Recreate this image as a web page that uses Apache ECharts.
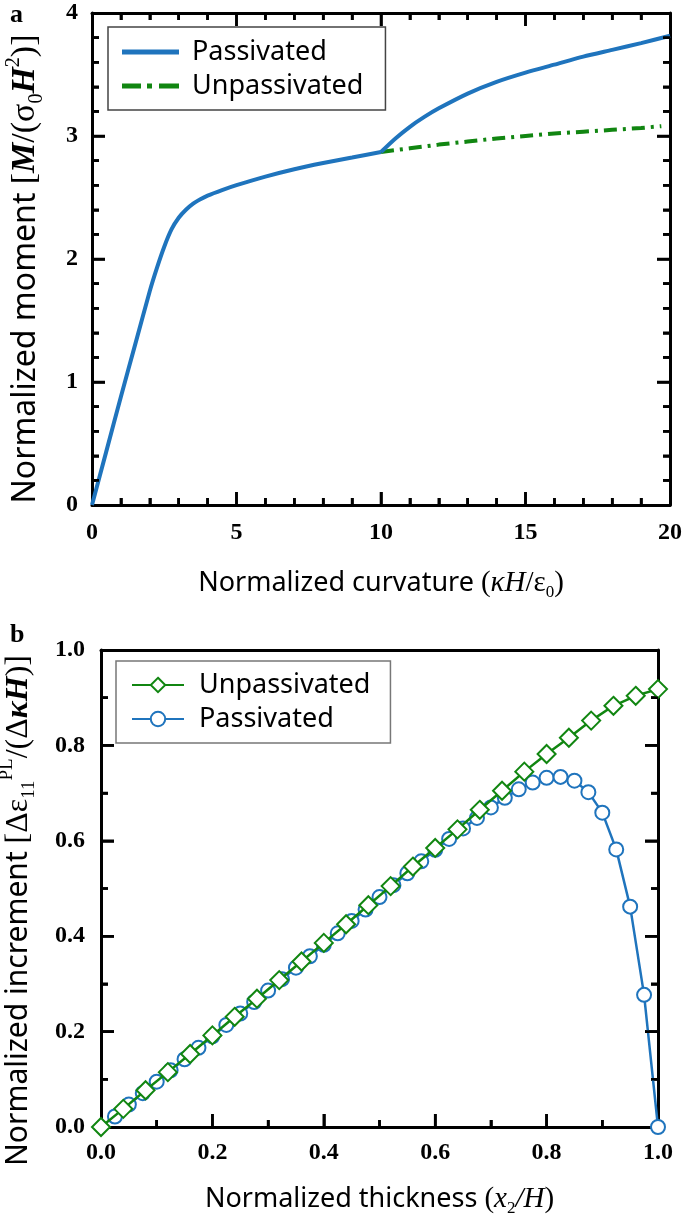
<!DOCTYPE html>
<html>
<head>
<meta charset="utf-8">
<script src="https://cdn.jsdelivr.net/npm/echarts@6/dist/echarts.min.js"></script>
<style>
html,body{margin:0;padding:0;background:#fff;}
#chart{width:685px;height:1220px;}
</style>
</head>
<body>
<div id="chart"></div>
<script>
// ---------- Panel a: moment vs curvature ----------
var aPassX1 = [0, 0.5, 1, 1.5, 2, 2.25, 2.5, 2.75, 3, 3.25, 3.5, 3.75, 4, 4.5, 5, 6, 7, 8, 9, 10];
var aPassY1 = [0, 0.44, 0.88, 1.31, 1.74, 1.93, 2.10, 2.24, 2.335, 2.40, 2.45, 2.485, 2.515, 2.56, 2.60, 2.67, 2.73, 2.78, 2.825, 2.87];
var aPassX2 = [10, 10.5, 11, 11.5, 12, 13, 14, 15, 16, 17, 18, 19, 20];
var aPassY2 = [2.87, 2.98, 3.075, 3.155, 3.225, 3.345, 3.44, 3.515, 3.58, 3.645, 3.70, 3.755, 3.815];
var aUnpassX = [10, 11, 12, 13, 14, 15, 16, 17, 18, 19, 19.7];
var aUnpassY = [2.87, 2.90, 2.93, 2.955, 2.98, 3.00, 3.02, 3.035, 3.05, 3.065, 3.08];
var aXTicks = [0, 5, 10, 15, 20];
var aYTicks = [0, 1, 2, 3, 4];

// ---------- Panel b: increment vs thickness ----------
var bUnpassX = [0, 0.04, 0.08, 0.12, 0.16, 0.2, 0.24, 0.28, 0.32, 0.36, 0.4, 0.44, 0.48, 0.52,
                0.56, 0.6, 0.64, 0.68, 0.72, 0.76, 0.8, 0.84, 0.88, 0.92, 0.96, 1.0];
var bUnpassY = [0, 0.038, 0.077, 0.115, 0.153, 0.192, 0.231, 0.269, 0.308, 0.347, 0.386, 0.425, 0.465, 0.505,
                0.546, 0.585, 0.624, 0.665, 0.705, 0.745, 0.782, 0.816, 0.852, 0.883, 0.904, 0.918];
var bPassX = [0.025, 0.05, 0.075, 0.1, 0.125, 0.15, 0.175, 0.2, 0.225, 0.25, 0.275, 0.3, 0.325, 0.35,
              0.375, 0.4, 0.425, 0.45, 0.475, 0.5, 0.525, 0.55, 0.575, 0.6, 0.625, 0.65, 0.675, 0.7,
              0.725, 0.75, 0.775, 0.8, 0.825, 0.85, 0.875, 0.9, 0.925, 0.95, 0.975, 1.0];
var bPassY = [0.022, 0.047, 0.071, 0.095, 0.119, 0.142, 0.166, 0.190, 0.214, 0.238, 0.262, 0.286, 0.310, 0.334,
              0.358, 0.382, 0.406, 0.432, 0.456, 0.482, 0.507, 0.532, 0.557, 0.581, 0.604, 0.626, 0.648, 0.670,
              0.690, 0.708, 0.722, 0.732, 0.734, 0.726, 0.702, 0.659, 0.582, 0.462, 0.277, 0.0];
var bXTicks = [0, 0.2, 0.4, 0.6, 0.8, 1.0];
var bYTicks = [0, 0.2, 0.4, 0.6, 0.8, 1.0];

var BLUE = '#1f74bd';
var GREEN = '#118611';
var SERIF = '"Liberation Serif", "Times New Roman", serif';
var SANS = '"Noto Sans", "Open Sans", sans-serif';

// plot-area geometry (px)
var GRID_A = { left: 92, right: 15, top: 13, height: 492 };
var GRID_B = { left: 101, right: 27, top: 650, height: 477 };
var CHART_W = 685;

function zip(xs, ys) { return xs.map(function (x, i) { return [x, ys[i]]; }); }

function makeRich(fs) {
  var lh = Math.round(fs * 1.35);
  var sfs = Math.round(fs * 0.62);
  return {
    t:   { fontFamily: SANS, fontSize: fs, color: '#000', lineHeight: lh },
    s:   { fontFamily: SERIF, fontSize: fs + 2, color: '#000', lineHeight: lh },
    i:   { fontFamily: SERIF, fontSize: fs + 2, fontStyle: 'italic', color: '#000', lineHeight: lh },
    bi:  { fontFamily: SERIF, fontSize: fs + 2, fontStyle: 'italic', fontWeight: 'bold', color: '#000', lineHeight: lh },
    sub: { fontFamily: SERIF, fontSize: sfs, color: '#000', verticalAlign: 'bottom', lineHeight: sfs + 1 },
    sup: { fontFamily: SERIF, fontSize: sfs, color: '#000', verticalAlign: 'top', lineHeight: sfs + 1 }
  };
}

var fmtInt = function (v) { return String(v); };
var fmt1 = function (v) { return v.toFixed(1); };

function axis(gridIndex, pos, ticks, minorPer, showTicks, opts) {
  var o = {
    type: 'value', gridIndex: gridIndex, position: pos,
    min: ticks[0], max: ticks[ticks.length - 1], interval: ticks[1] - ticks[0],
    axisLine: { show: true, onZero: false, lineStyle: { color: '#000', width: 3 } },
    axisTick: { show: showTicks, inside: true, length: 13, lineStyle: { color: '#000', width: 2.6 } },
    minorTick: { show: showTicks, splitNumber: minorPer, length: 7, lineStyle: { color: '#000', width: 2.6 } },
    splitLine: { show: false },
    axisLabel: { show: false }
  };
  if (opts) {
    o.axisLabel = { show: true, margin: opts.margin, formatter: opts.fmt, fontFamily: SERIF, fontWeight: 'bold', fontSize: 24, color: '#000' };
    o.name = opts.name; o.nameLocation = 'middle'; o.nameGap = opts.nameGap;
    o.nameTextStyle = { rich: makeRich(opts.fs), padding: opts.pad || 0 };
  }
  return o;
}

// inward frame ticks: each tick is its own two-point line series in data units
function tickSeriesList(axisIdx, grid, xT, xMinorPer, yT, yMinorPer, sides) {
  var xMin = xT[0], xMax = xT[xT.length - 1], yMin = yT[0], yMax = yT[yT.length - 1];
  var ux = (xMax - xMin) / (CHART_W - grid.left - grid.right);
  var uy = (yMax - yMin) / grid.height;
  var LMAJ = 13, LMIN = 7;
  var list = [];
  function each(ticks, per, cb) {
    var step = (ticks[1] - ticks[0]) / per;
    var n = Math.round((ticks[ticks.length - 1] - ticks[0]) / step);
    for (var i = 1; i < n; i++) cb(+(ticks[0] + i * step).toFixed(6), i % per === 0);
  }
  function seg(p, q) {
    list.push({
      name: 'tick-' + axisIdx + '-' + list.length, type: 'line',
      xAxisIndex: axisIdx, yAxisIndex: axisIdx,
      data: [p, q], symbol: 'none', showSymbol: false, clip: false,
      lineStyle: { color: '#000', width: 2.6 }, itemStyle: { color: '#000' }, z: 6
    });
  }
  each(xT, xMinorPer, function (v, major) {
    var d = (major ? LMAJ : LMIN) * uy;
    if (sides.bottom) seg([v, yMin], [v, yMin + d]);
    if (sides.top) seg([v, yMax], [v, yMax - d]);
  });
  each(yT, yMinorPer, function (v, major) {
    var d = (major ? LMAJ : LMIN) * ux;
    if (sides.left) seg([xMin, v], [xMin + d, v]);
    if (sides.right) seg([xMax, v], [xMax - d, v]);
  });
  return list;
}

var ICON_SOLID = 'path://M0,0h57v5h-57z';
var ICON_DASHDOT = 'path://M0,0h19v5h-19z M25,0h5v5h-5z M37,0h20v5h-20z';

var dataSeries = [
  {
    name: 'Unpassivated', type: 'line', xAxisIndex: 0, yAxisIndex: 0,
    data: zip(aUnpassX, aUnpassY), showSymbol: false, symbol: 'none',
    lineStyle: { color: GREEN, width: 4, type: [13, 6, 3, 6] }, itemStyle: { color: GREEN }, z: 2
  },
  {
    name: 'Passivated', type: 'line', xAxisIndex: 0, yAxisIndex: 0,
    data: zip(aPassX1, aPassY1), showSymbol: false, symbol: 'none', smooth: 0.25,
    lineStyle: { color: BLUE, width: 4 }, itemStyle: { color: BLUE }, z: 3
  },
  {
    name: 'Passivated', type: 'line', xAxisIndex: 0, yAxisIndex: 0,
    data: zip(aPassX2, aPassY2), showSymbol: false, symbol: 'none', smooth: 0.25,
    lineStyle: { color: BLUE, width: 4 }, itemStyle: { color: BLUE }, z: 3
  },
  {
    name: 'Passivated ', type: 'line', xAxisIndex: 2, yAxisIndex: 2,
    data: zip(bPassX, bPassY), symbol: 'emptyCircle', symbolSize: 14,
    lineStyle: { color: BLUE, width: 2.5 }, itemStyle: { color: BLUE, borderWidth: 2 }, z: 3
  },
  {
    name: 'Unpassivated ', type: 'line', xAxisIndex: 2, yAxisIndex: 2,
    data: zip(bUnpassX, bUnpassY), symbol: 'emptyDiamond', symbolSize: [18, 18],
    lineStyle: { color: GREEN, width: 2.5 }, itemStyle: { color: GREEN, borderWidth: 2 }, z: 4
  }
];

var tickSeries = tickSeriesList(0, GRID_A, aXTicks, 5, aYTicks, 5, { bottom: true, top: true, left: true, right: true })
  .concat(tickSeriesList(2, GRID_B, bXTicks, 2, bYTicks, 2, { bottom: true, top: false, left: true, right: true }));

var chart = echarts.init(document.getElementById('chart'), null, { renderer: 'canvas' });
chart.setOption({
  backgroundColor: '#fff',
  animation: false,
  title: [
    { text: 'a', left: 5, top: -3, textStyle: { fontFamily: SERIF, fontWeight: 'bold', fontSize: 26, color: '#000' } },
    { text: 'b', left: 5, top: 617, textStyle: { fontFamily: SERIF, fontWeight: 'bold', fontSize: 26, color: '#000' } }
  ],
  grid: [
    { left: GRID_A.left, right: GRID_A.right, top: GRID_A.top, height: GRID_A.height, containLabel: false, outerBoundsMode: 'none' },
    { left: GRID_B.left, right: GRID_B.right, top: GRID_B.top, height: GRID_B.height, containLabel: false, outerBoundsMode: 'none' }
  ],
  xAxis: [
    axis(0, 'bottom', aXTicks, 5, true, { margin: 16, fmt: fmtInt, fs: 27, nameGap: 60,
      name: '{t|Normalized curvature }{s|(}{i|κH}{s|/ε}{sub|0}{s|)}' }),
    axis(0, 'top', aXTicks, 5, true),
    axis(1, 'bottom', bXTicks, 2, true, { margin: 14, fmt: fmt1, fs: 27, nameGap: 54,
      name: '{t|Normalized thickness }{s|(}{i|x}{sub|2}{i|/H}{s|)}' }),
    axis(1, 'top', bXTicks, 2, false)
  ],
  yAxis: [
    axis(0, 'left', aYTicks, 5, true, { margin: 14, fmt: fmtInt, fs: 32, nameGap: 45, pad: [0, 20, 0, 0],
      name: '{t|Normalized moment }{s|[}{bi|M}{s|/(σ}{sub|0}{bi|H}{sup|2}{s|)]}' }),
    axis(0, 'right', aYTicks, 5, true),
    axis(1, 'left', bYTicks, 2, true, { margin: 16, fmt: fmt1, fs: 30, nameGap: 62, pad: [0, 44, 0, 0],
      name: '{t|Normalized increment }{s|[Δε}{sub|11}{sup|PL}{s|/(Δ}{bi|κH}{s|)]}' }),
    axis(1, 'right', bYTicks, 2, true)
  ],
  legend: [
    {
      data: [{ name: 'Passivated', icon: ICON_SOLID }, { name: 'Unpassivated', icon: ICON_DASHDOT }],
      orient: 'vertical', left: 108, top: 27,
      padding: [10, 22, 9, 14], itemGap: 4, itemWidth: 57, itemHeight: 5,
      borderColor: '#444', borderWidth: 1.5, backgroundColor: '#fff',
      textStyle: { fontFamily: SANS, fontSize: 27, color: '#000', lineHeight: 30, padding: [0, 0, 0, 8] },
      selectedMode: false, z: 10
    },
    {
      data: ['Unpassivated ', 'Passivated '], orient: 'vertical', left: 116, top: 661,
      padding: [9, 20, 9, 15], itemGap: 4, itemWidth: 52, itemHeight: 18,
      borderColor: '#777', borderWidth: 1.5, backgroundColor: '#fff',
      formatter: function (n) { return n.trim(); },
      textStyle: { fontFamily: SANS, fontSize: 27, color: '#000', lineHeight: 30, padding: [0, 0, 0, 10] },
      selectedMode: false, z: 10
    }
  ],
  series: tickSeries.concat(dataSeries)
});
</script>
</body>
</html>
